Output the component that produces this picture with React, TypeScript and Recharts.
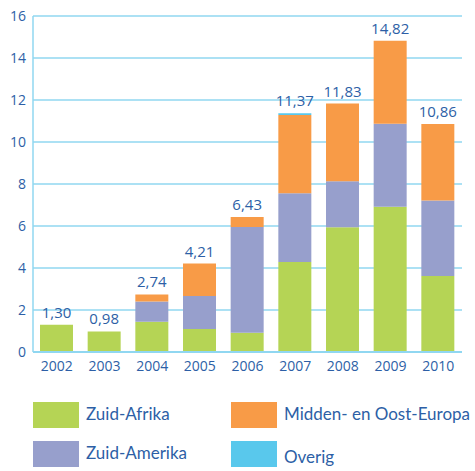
import React from "react";
import { BarChart, Bar, XAxis, YAxis, CartesianGrid, LabelList } from "recharts";

const years = ["2002", "2003", "2004", "2005", "2006", "2007", "2008", "2009", "2010"];
const zuidAfrika = [1.30, 0.98, 1.44, 1.10, 0.92, 4.29, 5.94, 6.92, 3.62];
const zuidAmerika = [0, 0, 0.96, 1.57, 5.03, 3.27, 2.19, 3.95, 3.59];
const middenOost = [0, 0, 0.34, 1.54, 0.48, 3.73, 3.70, 3.95, 3.65];
const overig = [0, 0, 0, 0, 0, 0.08, 0, 0, 0];
const totals = [1.30, 0.98, 2.74, 4.21, 6.43, 11.37, 11.83, 14.82, 10.86];
const yTicks = [0, 2, 4, 6, 8, 10, 12, 14, 16];

const seriesNames = ["Zuid-Afrika", "Zuid-Amerika", "Midden- en Oost-Europa", "Overig"];
const seriesKeys = ["za", "zam", "moe", "ov"];
const seriesColors = ["#b5d455", "#979fcc", "#f89b47", "#59c8ec"];
const seriesValues = [zuidAfrika, zuidAmerika, middenOost, overig];

const data = years.map((y, i) => ({
  year: y,
  za: zuidAfrika[i],
  zam: zuidAmerika[i],
  moe: middenOost[i],
  ov: overig[i],
  total: totals[i],
}));

const TEXT = "#2d5fa6";
const GRID = "#90d7f1";
const FONT = "'Open Sans', sans-serif";
const LFONT = "Lato, sans-serif";

const topSeries = years.map((_, i) => {
  let top = 0;
  seriesValues.forEach((arr, s) => {
    if (arr[i] > 0) top = s;
  });
  return top;
});

const makeLabel = (s: number) => (props: any) => {
  const { x, y, width, value } = props;
  const index = totals.indexOf(Number(value));
  if (index < 0 || topSeries[index] !== s) return null;
  return (
    <text
      x={Number(x) + Number(width) / 2}
      y={Number(y) - 7}
      textAnchor="middle"
      fill={TEXT}
      fontSize={15}
      fontFamily={FONT}
    >
      {totals[index].toFixed(2).replace(".", ",")}
    </text>
  );
};

const legendItems = [
  { idx: 0, left: 33, top: 402, textTop: 401 },
  { idx: 2, left: 231, top: 402, textTop: 401 },
  { idx: 1, left: 33, top: 441, textTop: 440 },
  { idx: 3, left: 231, top: 441, textTop: 444 },
];

export default function App() {
  return (
    <div style={{ position: "absolute", left: 0, top: 0, width: 475, height: 471, background: "#fff", fontFamily: LFONT }}>
      <BarChart
        width={475}
        height={471}
        data={data}
        margin={{ top: 16, right: 13, left: 0, bottom: 89 }}
        barSize={33}
      >
        <CartesianGrid horizontal vertical={false} stroke={GRID} strokeWidth={1.5} />
        <XAxis
          dataKey="year"
          height={30}
          tickLine={false}
          tickSize={0}
          tickMargin={9}
          stroke={GRID}
          strokeWidth={2}
          tick={{ fill: TEXT, fontSize: 14, fontFamily: FONT }}
        />
        <YAxis
          width={33}
          domain={[0, 16]}
          ticks={yTicks}
          tickLine={false}
          tickSize={0}
          tickMargin={7}
          stroke={GRID}
          strokeWidth={1.5}
          tick={{ fill: TEXT, fontSize: 14, fontFamily: FONT }}
        />
        {seriesKeys.map((k, i) => (
          <Bar key={k} dataKey={k} stackId="a" fill={seriesColors[i]} isAnimationActive={false}>
            <LabelList dataKey="total" content={makeLabel(i)} />
          </Bar>
        ))}
      </BarChart>
      {legendItems.map((it) => (
        <React.Fragment key={it.idx}>
          <div
            style={{
              position: "absolute",
              left: it.left,
              top: it.top,
              width: 46,
              height: 26,
              background: seriesColors[it.idx],
            }}
          />
          <div
            style={{
              position: "absolute",
              left: it.left + 53,
              top: it.textTop,
              fontSize: 17,
              lineHeight: "26px",
              color: TEXT,
              whiteSpace: "nowrap",
            }}
          >
            {seriesNames[it.idx]}
          </div>
        </React.Fragment>
      ))}
    </div>
  );
}
